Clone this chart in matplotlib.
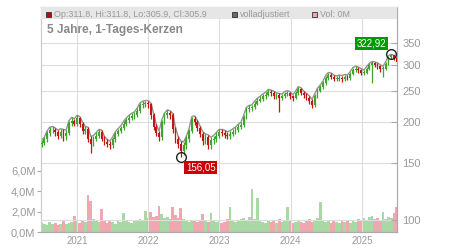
import matplotlib
matplotlib.use("Agg")
import matplotlib.pyplot as plt
from matplotlib.patches import Rectangle
import pandas as pd
import numpy as np

plt.rcParams['font.family'] = ['Liberation Sans', 'DejaVu Sans']

# two-week candles
close = [173, 177, 185, 189, 189, 186, 182, 187, 182, 185, 199,
         201, 198, 206, 197, 188, 190, 178, 172, 178, 182,
         186, 178, 174, 172, 170, 177, 184, 188, 192, 198,
         203, 206, 209, 210, 217, 225, 228, 229, 227, 210,
         193, 185, 180, 200, 210, 214, 211, 190, 177, 172,
         163, 170, 177, 188, 204, 200, 192, 184, 175, 180,
         170, 176, 177, 182, 186, 185, 183, 181, 184, 187,
         189, 193, 196, 207, 219, 221, 222, 228, 233, 236,
         240, 243, 247, 246, 240, 242, 238, 240, 244, 245,
         240, 238, 245, 253, 246, 242, 238, 232, 226, 240,
         250, 256, 263, 274, 279, 276, 272, 272, 274, 271,
         275, 273, 282, 290, 292, 289, 284, 284, 292, 299,
         303, 300, 297, 292, 292, 302, 316, 322, 315, 306]
high = [176, 180, 188, 193, 194, 192, 189, 191, 190, 189, 202,
        207, 205, 210, 208, 200, 194, 193, 181, 182, 186,
        190, 189, 181, 177, 175, 180, 187, 191, 195, 201,
        206, 210, 213, 215, 221, 229, 232, 233, 233, 229,
        213, 197, 188, 203, 213, 218, 217, 213, 193, 181,
        175, 174, 181, 191, 208, 209, 203, 195, 187, 184,
        183, 180, 182, 186, 190, 190, 189, 187, 188, 191,
        193, 197, 200, 210, 222, 225, 226, 232, 237, 240,
        244, 247, 252, 251, 249, 246, 245, 244, 248, 250,
        248, 243, 249, 257, 255, 249, 245, 241, 235, 244,
        254, 260, 267, 278, 284, 283, 279, 277, 279, 278,
        280, 279, 286, 294, 297, 295, 292, 289, 296, 303,
        307, 306, 304, 300, 297, 306, 320, 322.92, 321, 316]
low = [168, 170, 174, 182, 185, 182, 178, 179, 175, 176, 183,
       195, 194, 195, 193, 184, 184, 174, 161, 169, 175,
       179, 175, 170, 168, 166, 167, 174, 181, 185, 189,
       195, 199, 203, 205, 207, 214, 221, 223, 221, 204,
       189, 181, 175, 176, 197, 206, 205, 185, 173, 167,
       156.05, 159, 166, 174, 185, 196, 188, 180, 170, 171,
       165, 166, 171, 174, 179, 181, 179, 177, 178, 181,
       184, 186, 190, 193, 204, 215, 217, 219, 225, 230,
       232, 236, 240, 241, 235, 236, 215, 234, 237, 240,
       236, 233, 235, 242, 242, 238, 234, 228, 221, 223,
       237, 247, 253, 260, 270, 271, 267, 267, 268, 266,
       267, 269, 270, 279, 286, 284, 279, 279, 281, 289,
       263, 295, 292, 286, 275, 289, 299, 312, 311, 305.9]
volume = [0.9, 0.8, 0.7, 1.0, 0.8, 0.9, 0.7, 0.8, 1.2, 0.8, 0.9,
          1.0, 1.6, 1.1, 0.9, 1.2, 1.0, 3.6, 3.0, 1.3, 1.1,
          1.0, 2.3, 1.2, 0.9, 1.1, 1.0, 0.8, 1.2, 1.0, 1.9,
          1.1, 1.0, 0.9, 1.2, 1.1, 1.3, 1.2, 2.1, 1.4, 2.0,
          1.5, 1.6, 2.6, 1.8, 1.4, 1.5, 1.3, 2.5, 1.7, 1.4,
          2.4, 1.3, 1.1, 1.0, 1.2, 1.1, 1.0, 1.2, 1.8, 1.1,
          1.0, 1.9, 1.2, 1.0, 1.1, 0.9, 1.0, 1.3, 2.5, 1.2,
          1.0, 1.1, 1.3, 1.4, 1.2, 1.5, 4.2, 1.3, 3.3, 1.1,
          1.0, 0.9, 1.2, 1.0, 1.1, 0.9, 1.3, 1.0, 1.2, 2.5,
          1.1, 0.9, 1.0, 1.2, 1.0, 0.9, 1.1, 1.3, 1.0, 1.2,
          1.4, 2.9, 1.2, 1.0, 1.1, 0.9, 1.2, 1.0, 0.9, 1.1,
          1.0, 1.2, 0.9, 1.1, 1.0, 1.3, 1.1, 1.4, 1.2, 1.5,
          1.6, 1.3, 1.4, 1.2, 2.0, 1.3, 1.5, 1.4, 1.9, 2.5]
first_open = 171
dates = pd.date_range('2020-07-03', periods=len(close), freq='14D')

price_ticks = [100, 150, 200, 250, 300, 350]
vol_ticks = [0, 2, 4, 6]
vol_labels = ['0,0M', '2,0M', '4,0M', '6,0M']
years = ['2021', '2022', '2023', '2024', '2025']

GREEN = '#3fa52a'
RED = '#c41414'
GRAY_TXT = '#999999'

opens = [first_open] + close[:-1]
up = [c >= o for o, c in zip(opens, close)]

fig = plt.figure(figsize=(4.5, 2.5), dpi=100)
axv = fig.add_axes([41 / 450, 1 - 232 / 250, 356 / 450, 225 / 250])
ax = axv.twinx()

x0 = pd.Timestamp('2020-06-30')
x1 = pd.Timestamp('2025-06-29')

# volume on the left scale
vcol = ['#a9d9a2' if u else '#f0a7af' for u in up]
axv.bar(dates, volume, width=14, color=vcol, linewidth=0, zorder=1)
axv.set_ylim(0, 22.1)
axv.set_yticks(vol_ticks)
axv.set_yticklabels(vol_labels)
axv.tick_params(axis='y', direction='out', length=3, color='#aaaaaa',
                labelsize=8, labelcolor=GRAY_TXT, pad=1)

# price on the right log scale
ax.set_yscale('log')
ax.set_ylim(92.1, 451)
ax.set_yticks(price_ticks)
ax.set_yticklabels([str(t) for t in price_ticks])
ax.yaxis.set_minor_locator(matplotlib.ticker.NullLocator())
ax.tick_params(axis='y', direction='in', length=4, color='#aaaaaa',
               labelsize=8, labelcolor=GRAY_TXT, pad=4)
for t in price_ticks:
    ax.axhline(t, color='#dddddd', lw=0.8, zorder=0)
for y in years:
    ax.axvline(pd.Timestamp(y + '-01-01'), color='#dddddd', lw=0.8, zorder=0)

# volladjustiert overlay
ax.plot(dates, high, color='#949494', lw=1.0, zorder=2)

ccol = [GREEN if u else RED for u in up]
ax.vlines(dates, low, high, colors=ccol, lw=0.9, zorder=3)
bottoms = [min(o, c) for o, c in zip(opens, close)]
heights = [max(abs(c - o), 0.8) for o, c in zip(opens, close)]
ax.bar(dates, heights, bottom=bottoms, width=9, color=ccol, linewidth=0, zorder=3)

# max / min markers
imax = int(np.argmax(high))
imin = int(np.argmin(low))
ax.plot([dates[imax]], [high[imax]], 'o', mfc='none', mec='#222222', ms=7, mew=1, zorder=5)
ax.plot([dates[imin]], [low[imin]], 'o', mfc='none', mec='#222222', ms=7, mew=1, zorder=5)
ax.annotate(f'{high[imax]:.2f}'.replace('.', ','), (dates[imax], high[imax]),
            xytext=(-5, 6), textcoords='offset pixels', ha='right', va='bottom',
            color='white', fontsize=7,
            bbox=dict(boxstyle='square,pad=0.15', fc='#009a00', ec='none'), zorder=6)
ax.annotate(f'{low[imin]:.2f}'.replace('.', ','), (dates[imin], low[imin]),
            xytext=(5, -5), textcoords='offset pixels', ha='left', va='top',
            color='white', fontsize=7,
            bbox=dict(boxstyle='square,pad=0.15', fc='#cc0000', ec='none'), zorder=6)

ax.set_xlim(x0, x1)
axv.set_xlim(x0, x1)
axv.set_xticks([pd.Timestamp(y + '-01-01') for y in years])
axv.set_xticklabels(years)
axv.tick_params(axis='x', length=0, labelsize=7, labelcolor=GRAY_TXT, pad=3)

for a in (ax, axv):
    a.spines['top'].set_color('#cccccc')
    a.spines['left'].set_color('#cccccc')
    a.spines['right'].set_color('#aaaaaa')
    a.spines['bottom'].set_color('#aaaaaa')
    for s in a.spines.values():
        s.set_linewidth(0.8)

# header band and legend
ax.add_patch(Rectangle((0, 1 - 12 / 225), 1, 12 / 225, transform=ax.transAxes,
                       facecolor='#e6e6e6', edgecolor='none', zorder=4))
def legend_item(xpx, color, text):
    fig.patches.append(Rectangle((xpx / 450, 1 - 17 / 250), 5 / 450, 5 / 250,
                                 transform=fig.transFigure, facecolor=color,
                                 edgecolor='#333333', lw=0.6, zorder=10))
    fig.text((xpx + 8) / 450, 1 - 14.3 / 250, text, fontsize=6.5, color=GRAY_TXT,
             va='center', ha='left')

legend_item(46, '#b01010', 'Op:311.8, Hi:311.8, Lo:305.9, Cl:305.9')
legend_item(232, '#666666', 'volladjustiert')
legend_item(312, '#f0a7af', 'Vol: 0M')
fig.text(47 / 450, 1 - 30 / 250, '5 Jahre, 1-Tages-Kerzen', fontsize=8.6,
         fontweight='bold', color='#888888', va='center', ha='left')

fig.savefig('out.png', dpi=100)
